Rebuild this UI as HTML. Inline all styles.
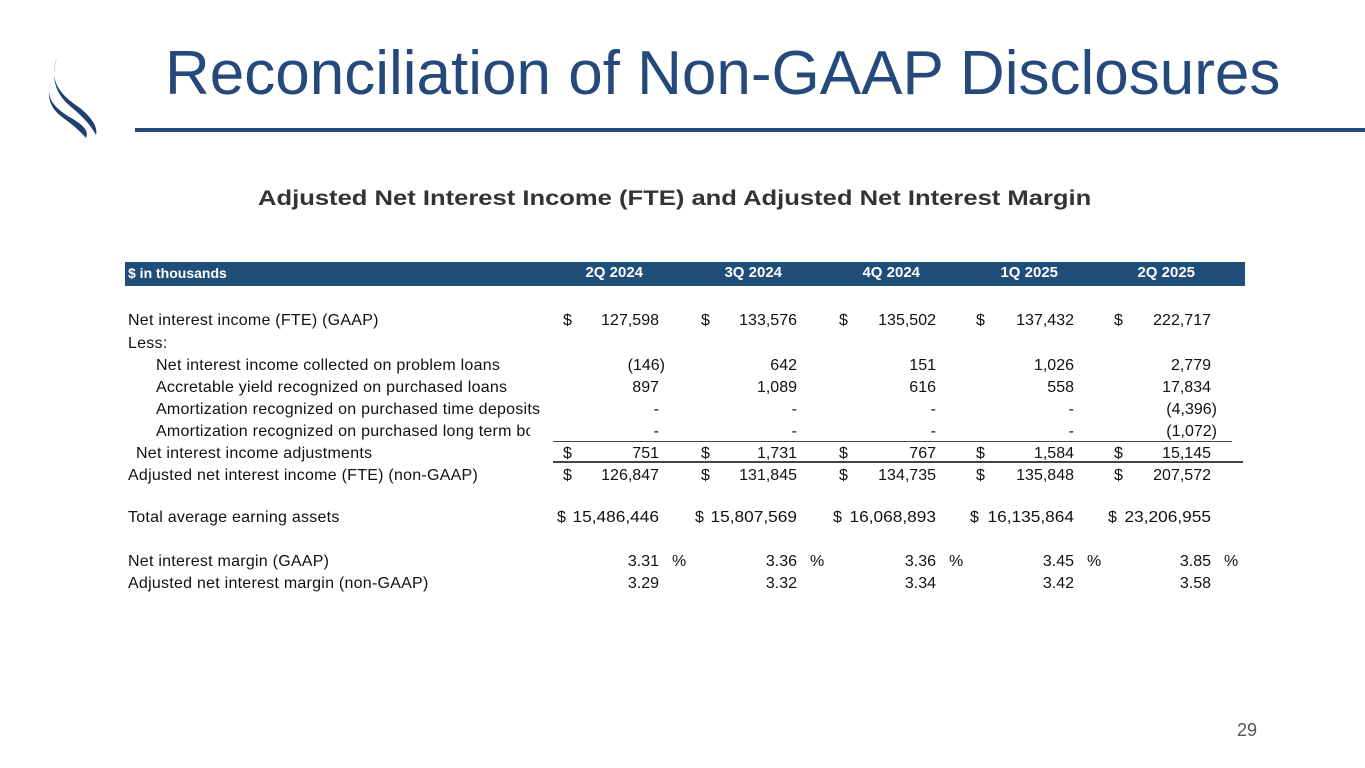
<!DOCTYPE html>
<html><head><meta charset="utf-8"><style>
body{margin:0;width:1365px;height:768px;background:#fff;position:relative;overflow:hidden;font-family:"Liberation Sans",sans-serif;color:#111}
.a{position:absolute;white-space:nowrap}
.t{font-size:16px;line-height:18px;letter-spacing:0.25px}
</style></head><body>
<svg class="a" style="left:0;top:0" width="120" height="150">
<path d="M57,58 C48,80 60,95 80,108 C92,118 98,127 96,135 C90,124 82,116 70,106 C56,94 50,78 57,58Z" fill="#1f3f6e"/>
<path d="M51,82 C44,99 57,110 73,119 C84,126 89,131 86,138 C80,131 73,125 62,117 C50,108 46,96 51,82Z" fill="#1f3f6e"/>
</svg>
<div class="a" style="left:165px;top:38px;font-size:62px;color:#24497a;line-height:72px">Reconciliation of Non-GAAP Disclosures</div>
<div class="a" style="left:135px;top:128px;width:1230px;height:4px;background:#24497a"></div>
<div class="a" style="left:258px;top:187px;font-size:21px;font-weight:bold;color:#333;transform-origin:0 0;transform:scaleX(1.218)">Adjusted Net Interest Income (FTE) and Adjusted Net Interest Margin</div>
<div class="a" style="left:125px;top:262px;width:1120px;height:24px;background:#1f4e79"></div>
<div id="tbl"></div>
<div class="a" style="left:553px;top:441px;width:679px;height:1px;background:#444"></div>
<div class="a" style="left:553px;top:461px;width:690px;height:2px;background:#444"></div>
<div class="a" style="left:1237px;top:720px;font-size:18px;color:#555">29</div>
<script>
const periods=["2Q 2024","3Q 2024","4Q 2024","1Q 2025","2Q 2025"];
const labels=["Net interest income (FTE) (GAAP)","Less:","Net interest income collected on problem loans","Accretable yield recognized on purchased loans","Amortization recognized on purchased time deposits","Amortization recognized on purchased long term borrowings","Net interest income adjustments","Adjusted net interest income (FTE) (non-GAAP)","Total average earning assets","Net interest margin (GAAP)","Adjusted net interest margin (non-GAAP)"];
const indents=[0,0,28,28,28,28,8,0,0,0,0];
const clipRows=[false,false,false,false,false,true,false,false,false,false,false];
const rowY=[312,335,357,379,401,423,445,467,509,553,575];
const dollarRows=[true,false,false,false,false,false,true,true,true,false,false];
const pctRows=[false,false,false,false,false,false,false,false,false,true,false];
const values=[
["127,598","133,576","135,502","137,432","222,717"],
["","","","",""],
["(146)","642","151","1,026","2,779"],
["897","1,089","616","558","17,834"],
["-","-","-","-","(4,396)"],
["-","-","-","-","(1,072)"],
["751","1,731","767","1,584","15,145"],
["126,847","131,845","134,735","135,848","207,572"],
["15,486,446","15,807,569","16,068,893","16,135,864","23,206,955"],
["3.31","3.36","3.36","3.45","3.85"],
["3.29","3.32","3.34","3.42","3.58"]];
const colRight=[659,797,936,1074,1211];
const headRight=[643,782,920,1058,1195];
const dollarX=[563,701,839,976,1114];
const tbl=document.getElementById('tbl');
function mk(txt,style,cls){const d=document.createElement('div');d.className='a '+(cls||'');d.textContent=txt;d.style.cssText=style;tbl.appendChild(d);return d;}
let h=mk("$ in thousands","left:128px;top:265px;font-size:14px;font-weight:bold;color:#fff");


periods.forEach((p,i)=>{const e=mk(p,"left:"+(headRight[i]-100)+"px;width:100px;text-align:right;top:264px;font-size:15px;font-weight:bold;color:#fff");

});
labels.forEach((l,r)=>{
const e=mk(l,"left:"+(128+indents[r])+"px;top:"+rowY[r]+"px;"+(clipRows[r]?"max-width:374px;overflow:hidden":""),"t");


values[r].forEach((v,i)=>{
if(!v)return;
const isWide=v.length>8;
if(dollarRows[r]){const d=mk("$","left:"+(isWide?dollarX[i]-6:dollarX[i])+"px;top:"+rowY[r]+"px","t");

}
const pr=v.startsWith("(")?colRight[i]+6:colRight[i];
const wide=isWide?"transform-origin:100% 0;transform:scaleX(1.08);":"";
const c=mk(v,"left:"+(pr-120)+"px;width:120px;text-align:right;top:"+rowY[r]+"px;letter-spacing:0;"+wide,"t");


if(pctRows[r]){const p=mk("%","left:"+(colRight[i]+13)+"px;top:"+rowY[r]+"px","t");

}
});});
</script>
</body></html>
